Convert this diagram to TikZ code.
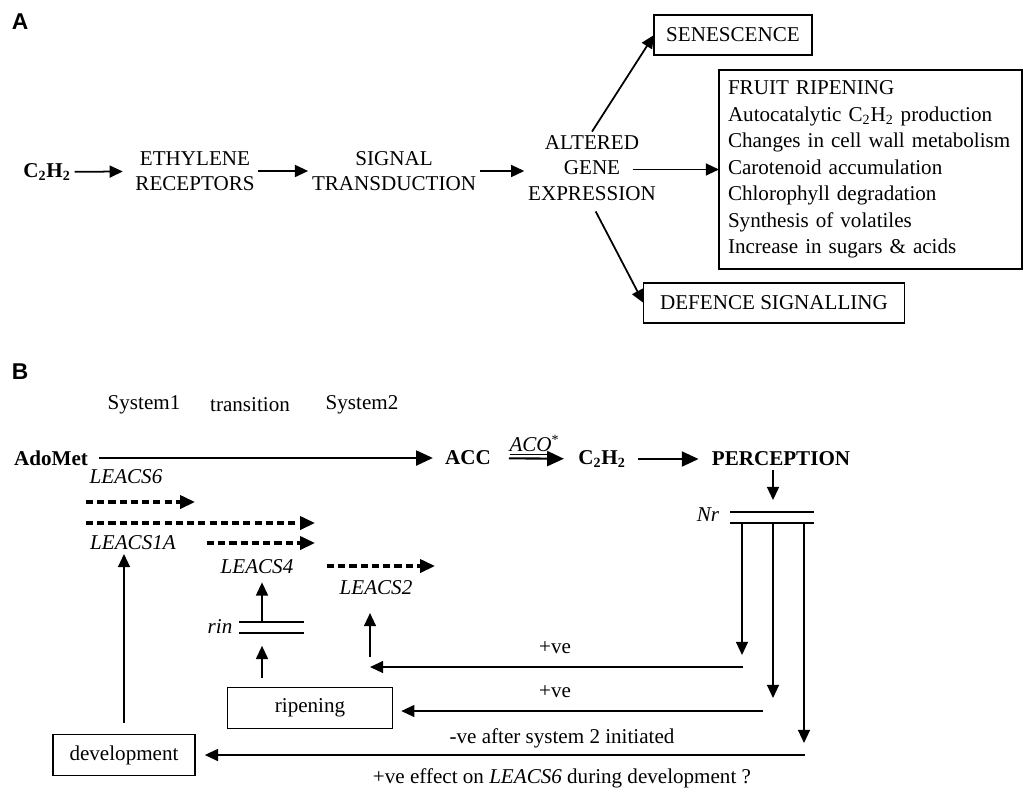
\documentclass[tikz,border=0pt]{standalone}
\usepackage{fontspec}
\setmainfont{Liberation Serif}
\setsansfont{Liberation Sans}
\usetikzlibrary{arrows.meta}

\begin{document}
\begin{tikzpicture}[x=0.02cm,y=-0.02cm,
    every node/.style={font=\fontsize{12}{14.5}\selectfont, inner sep=2pt},
    box/.style={draw, line width=0.8pt, inner sep=0pt, outer sep=0pt},
    arr/.style={line width=1pt, -{Triangle[length=7.5pt,width=6.8pt]}},
    bigarr/.style={line width=1.2pt, -{Triangle[length=9.5pt,width=8.5pt]}},
    dsh/.style={line width=1.8pt, dash pattern=on 4pt off 2.4pt, -{Triangle[length=8.5pt,width=7.5pt]}},
    bar/.style={line width=1pt},
    panel/.style={font=\sffamily\bfseries\fontsize{13}{15}\selectfont}]
  \useasboundingbox (0,0) rectangle (1026,792);

  % panel A
  \node[panel] (A) at (20,22) {A};
  \node (c2h2) at (47,172) {\textbf{C\textsubscript{2}H\textsubscript{2}}};
  \node[align=center] (rec) at (195,171) {ETHYLENE\\RECEPTORS};
  \node[align=center] (sig) at (394,171) {SIGNAL\\TRANSDUCTION};
  \node[align=center] (alt) at (592,168) {ALTERED\\GENE\\EXPRESSION};
  \node[box, minimum width=3.16cm, minimum height=0.8cm] (sen) at (733,35) {SENESCENCE};
  \node[box, minimum width=5.22cm, minimum height=0.8cm] (def) at (774,303) {DEFENCE SIGNALLING};
  \node[box, anchor=north west, text width=5.7cm, inner xsep=0.18cm,
        minimum height=3.98cm, align=left, font=\fontsize{12}{15.1}\selectfont] (fruit) at (719,70)
    {FRUIT RIPENING\\
     Autocatalytic C\textsubscript{2}H\textsubscript{2} production\\
     Changes in cell wall metabolism\\
     Carotenoid accumulation\\
     Chlorophyll degradation\\
     Synthesis of volatiles\\
     Increase in sugars \& acids};

  \draw[arr, shorten >=5pt] (c2h2) -- (rec);
  \draw[arr] (rec) -- (sig);
  \draw[arr] (sig.east) -- (alt.west |- sig.east);
  \draw[arr, shorten <=-0.54cm] (alt.east |- fruit.west) -- (fruit.west);
  \draw[arr] (alt.north) -- (sen.west);
  \draw[arr, shorten <=0.16cm] (alt.south) -- (def.west);

  % panel B
  \node[panel] (B) at (20,372) {B};
  \node (sys1) at (144,405) {System1};
  \node (trans) at (250,405) {transition};
  \node (sys2) at (362,405) {System2};

  \node (ado) at (51,458) {\textbf{AdoMet}};
  \node (acc) at (468,458) {\textbf{ACC}};
  \node (c2) at (602,459) {\textbf{C\textsubscript{2}H\textsubscript{2}}};
  \node (perc) at (781,459) {\textbf{PERCEPTION}};
  \draw[bigarr, shorten <=4.2pt, shorten >=4.8pt] (ado) -- (acc);
  \draw[bigarr, shorten <=8pt, shorten >=6pt] (acc) -- (c2)
    node[midway, above=-1pt] (aco) {\underline{\textit{ACO}}\textsuperscript{*}};
  \draw[bigarr, shorten <=5pt, shorten >=5.4pt] (c2) -- (perc);

  \node (l6) at (126,477) {\textit{LEACS6}};
  \node (l1a) at (133,543) {\textit{LEACS1A}};
  \node (l4) at (257,567) {\textit{LEACS4}};
  \node (l2) at (376,588) {\textit{LEACS2}};
  \foreach \i/\a/\b/\y in {1/86/195/502, 2/86/315/523, 3/207/315/543, 4/327/435/566} {
    \coordinate (ds\i) at (\a,\y);
    \coordinate (de\i) at (\b,\y);
    \draw[dsh] (ds\i) -- (de\i);
  }

  % Nr block
  \node (nr) at (708,515) {\textit{Nr}};
  \coordinate (nrt) at (773,512);
  \coordinate (nrb) at (773,523);
  \draw[bar] (730,512) -- (814,512) (730,523) -- (814,523);
  \draw[arr, shorten >=6.8pt] (perc.south -| nrt) -- (nrt);

  % rin block
  \node (rin) at (220,627) {\textit{rin}};
  \coordinate (rint) at (262,622);
  \coordinate (rinb) at (262,633);
  \draw[bar] (239,622) -- (304,622) (239,633) -- (304,633);

  \node[box, minimum width=3.3cm, minimum height=0.82cm] (rip) at (310,708) {ripening};
  \node[box, minimum width=2.84cm, minimum height=0.82cm] (dev) at (124,755) {development};

  \draw[arr, shorten <=6.8pt] (dev.north) -- (dev.north |- l1a.south);
  \draw[arr, shorten <=5.6pt, shorten >=7.3pt] (rip.north -| rinb) -- (rinb);
  \draw[arr, shorten >=2.5pt] (rint) -- (l4.south -| rint);
  \coordinate (l2f) at (370,657);
  \draw[arr, shorten >=8pt] (l2f) -- (l2f |- l2.south);

  % feedback from Nr
  \coordinate (v1) at (742,655);
  \coordinate (v2) at (773,698);
  \coordinate (v3) at (804,743);
  \foreach \v in {v1,v2,v3}
    \draw[arr] (nrb -| \v) -- (\v);
  \coordinate (h1) at (743,667);
  \coordinate (h2) at (763,711);
  \coordinate (h3) at (805,755);
  \draw[arr] (h1) -- (h1 -| l2f);
  \draw[arr, shorten >=5pt] (h2) -- (h2 -| rip.east);
  \draw[arr, shorten >=5.6pt] (h3) -- (h3 -| dev.east);
  \node (pv1) at (555,648) {+ve};
  \node (pv2) at (555,692) {+ve};
  \node (nv) at (562,738) {-ve after system 2 initiated};
  \node (pv3) at (562,778) {+ve effect on \textit{LEACS6} during development ?};
\end{tikzpicture}
\end{document}
